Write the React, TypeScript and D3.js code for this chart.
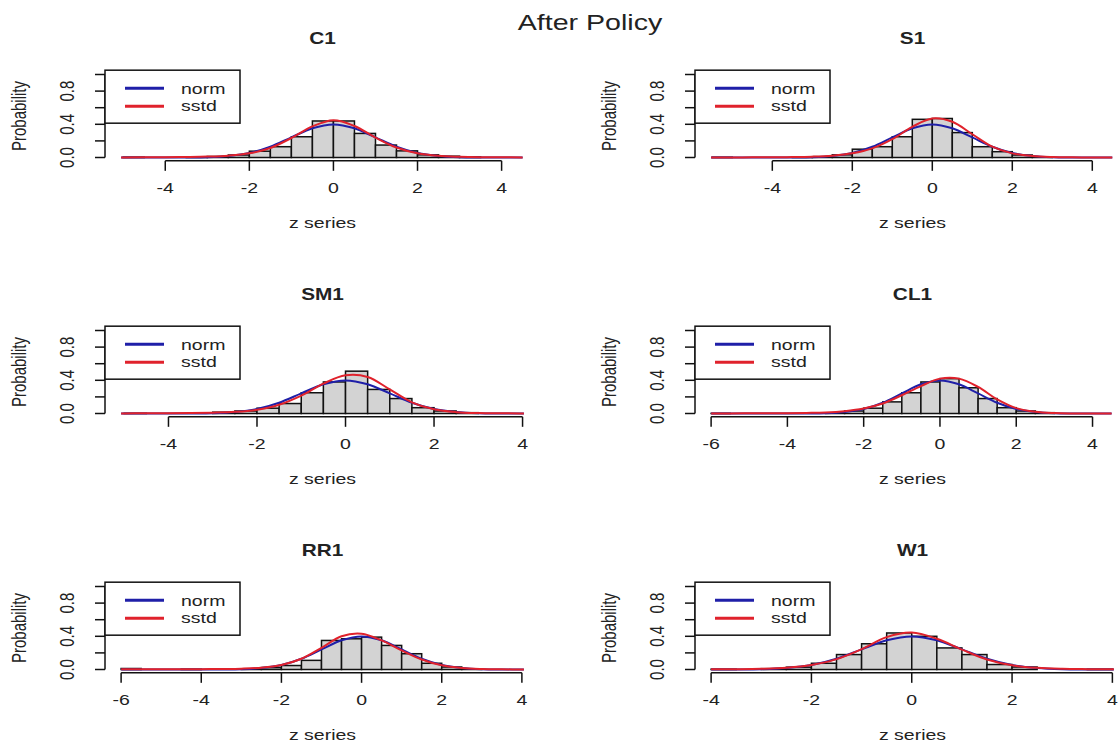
import React from "react";
import * as d3 from "d3";

// panel titles, in reading order (3 rows x 2 cols)
const panelNames = ["C1", "S1", "SM1", "CL1", "RR1", "W1"];

// data range of each z series (sets xlim)
const xRanges = [
  [-5.05, 4.53],
  [-5.53, 4.54],
  [-5.07, 4.03],
  [-6.0, 4.56],
  [-6.0, 4.05],
  [-4.0, 4.03],
];

const xTickValues = [
  [-4, -2, 0, 2, 4],
  [-4, -2, 0, 2, 4],
  [-4, -2, 0, 2, 4],
  [-6, -4, -2, 0, 2, 4],
  [-6, -4, -2, 0, 2, 4],
  [-4, -2, 0, 2, 4],
];
const yTickValues = [0, 0.2, 0.4, 0.6, 0.8, 1.0];
const yTickLabels = ["0.0", "", "0.4", "", "0.8", ""];

// histogram: first break, bin width 0.5, densities
const binStarts = [-5, -5.5, -5, -6, -6, -4];
const c1Dens = [0.004, 0, 0, 0.004, 0.012, 0.03, 0.076, 0.13, 0.25, 0.44, 0.44, 0.29, 0.15, 0.08, 0.032, 0.016, 0.008];
const s1Dens = [0.003, 0, 0, 0, 0.006, 0.01, 0.032, 0.1, 0.13, 0.25, 0.46, 0.47, 0.3, 0.13, 0.07, 0.03, 0.008];
const sm1Dens = [0.002, 0, 0, 0, 0.016, 0.03, 0.064, 0.12, 0.25, 0.38, 0.51, 0.29, 0.18, 0.07, 0.03, 0.01];
const cl1Dens = [0.002, 0, 0, 0, 0, 0, 0.006, 0.03, 0.064, 0.14, 0.25, 0.38, 0.42, 0.31, 0.18, 0.07, 0.03, 0.01];
const rr1Dens = [0.012, 0, 0, 0.004, 0, 0, 0.004, 0.024, 0.048, 0.11, 0.35, 0.37, 0.39, 0.29, 0.19, 0.075, 0.03, 0.008];
const w1Dens = [0.004, 0, 0.01, 0.028, 0.075, 0.18, 0.31, 0.44, 0.4, 0.26, 0.18, 0.06, 0.03, 0, 0, 0.004];
const binDensities = [c1Dens, s1Dens, sm1Dens, cl1Dens, rr1Dens, w1Dens];

// fitted densities read at z = -6 .. 4.5 (step 0.5)
const curveX = [-6, -5.5, -5, -4.5, -4, -3.5, -3, -2.5, -2, -1.5, -1, -0.5, 0, 0.5, 1, 1.5, 2, 2.5, 3, 3.5, 4, 4.5];
const normY = [0, 0, 0, 0, 0.0001, 0.001, 0.004, 0.018, 0.054, 0.13, 0.242, 0.352, 0.399, 0.352, 0.242, 0.13, 0.054, 0.018, 0.004, 0.001, 0.0001, 0];
const c1Sstd = [0, 0, 0.001, 0.002, 0.003, 0.006, 0.011, 0.022, 0.05, 0.115, 0.235, 0.375, 0.45, 0.38, 0.24, 0.12, 0.05, 0.02, 0.009, 0.004, 0.002, 0.001];
const s1Sstd = [0, 0.001, 0.001, 0.002, 0.003, 0.005, 0.01, 0.022, 0.05, 0.11, 0.22, 0.37, 0.47, 0.43, 0.28, 0.13, 0.05, 0.018, 0.006, 0.002, 0.001, 0];
const sm1Sstd = [0, 0, 0.001, 0.002, 0.003, 0.005, 0.01, 0.02, 0.045, 0.105, 0.215, 0.36, 0.46, 0.44, 0.29, 0.135, 0.05, 0.016, 0.005, 0.002, 0.001, 0];
const cl1Sstd = [0.001, 0.001, 0.002, 0.003, 0.004, 0.007, 0.012, 0.028, 0.06, 0.12, 0.22, 0.33, 0.42, 0.42, 0.32, 0.17, 0.065, 0.02, 0.005, 0.001, 0, 0];
const rr1Sstd = [0.002, 0.002, 0.003, 0.003, 0.004, 0.006, 0.01, 0.022, 0.055, 0.13, 0.26, 0.4, 0.43, 0.35, 0.23, 0.12, 0.05, 0.018, 0.006, 0.002, 0.001, 0];
const w1Sstd = [0, 0, 0.001, 0.001, 0.002, 0.004, 0.009, 0.022, 0.055, 0.125, 0.245, 0.39, 0.445, 0.37, 0.24, 0.12, 0.05, 0.02, 0.008, 0.004, 0.002, 0.001];
const sstdCurves = [c1Sstd, s1Sstd, sm1Sstd, cl1Sstd, rr1Sstd, w1Sstd];

const legendLabels = ["norm", "sstd"];

const W = 1120;
const H = 744;
const COL_X = [0, 590];
const ROW_Y = [0, 256, 512];
const PLOT_L = 105;
const PLOT_R = 540;
const Y_BASE = 157.5;
const Y_TOP = 74.5;
const SX = 1.3; // the source image is stretched sideways
const FONT = "'Liberation Sans', Arial, sans-serif";
const INK = "#222";
const BLUE = "#1f1fa8";
const RED = "#e0222c";

// horizontal text is widened; rotated text gets its glyph height widened instead
const Txt = ({ x, y, size, weight = "normal", anchor = "middle", rotated = false, children }: any) => (
  <text
    transform={
      rotated
        ? `translate(${x},${y}) rotate(-90) scale(1,${SX})`
        : `translate(${x},${y}) scale(${SX},1)`
    }
    fontSize={size}
    fontWeight={weight}
    textAnchor={anchor}
    fontFamily={FONT}
    fill={INK}
  >
    {children}
  </text>
);

const Panel = ({ i }: { i: number }) => {
  const ox = COL_X[i % 2];
  const oy = ROW_Y[Math.floor(i / 2)];
  const [lo, hi] = xRanges[i];
  const pad = (hi - lo) * 0.04;
  const x = d3.scaleLinear().domain([lo - pad, hi + pad]).range([PLOT_L, PLOT_R]);
  const y = d3.scaleLinear().domain([0, 1]).range([Y_BASE, Y_TOP]);
  const plotTop = y(1.04);
  const plotBot = y(-0.04);
  const ticks = xTickValues[i];

  const bins = binDensities[i].map((d, k) => ({ x0: binStarts[i] + k * 0.5, x1: binStarts[i] + (k + 1) * 0.5, d }));

  const line = d3
    .line<number>()
    .x((_, k) => x(curveX[k]))
    .y((v) => y(v))
    .curve(d3.curveCatmullRom.alpha(0.5));

  const clipId = `clip${i}`;
  const legX = PLOT_L;
  const legY = plotTop - 1;

  return (
    <g transform={`translate(${ox},${oy})`}>
      <defs>
        <clipPath id={clipId}>
          <rect x={x(lo)} y={plotTop - 5} width={x(hi) - x(lo)} height={plotBot - plotTop + 5} />
        </clipPath>
      </defs>

      <Txt x={(PLOT_L + PLOT_R) / 2} y={44} size={16} weight="bold">
        {panelNames[i]}
      </Txt>

      {/* bars */}
      {bins.map((b, k) => (
        <rect
          key={k}
          x={x(b.x0)}
          y={y(b.d)}
          width={x(b.x1) - x(b.x0)}
          height={y(0) - y(b.d)}
          fill="#d3d3d3"
          stroke="#111"
          strokeWidth={1.5}
        />
      ))}

      {/* fitted curves */}
      <g clipPath={`url(#${clipId})`} fill="none" strokeWidth={2}>
        <path d={line(normY) || ""} stroke={BLUE} />
        <path d={line(sstdCurves[i]) || ""} stroke={RED} />
      </g>

      {/* y axis */}
      <g stroke="#111" strokeWidth={1.5}>
        <line x1={PLOT_L} x2={PLOT_L} y1={y(0)} y2={y(1)} />
        {yTickValues.map((t) => (
          <line key={t} x1={PLOT_L - 10} x2={PLOT_L} y1={y(t)} y2={y(t)} />
        ))}
      </g>
      {yTickValues.map((t, k) =>
        yTickLabels[k] ? (
          <Txt key={t} x={PLOT_L - 31} y={y(t)} size={15} rotated>
            {yTickLabels[k]}
          </Txt>
        ) : null
      )}
      <Txt x={PLOT_L - 79} y={(plotTop + plotBot) / 2} size={15} rotated>
        Probability
      </Txt>

      {/* x axis */}
      <g stroke="#111" strokeWidth={1.5}>
        <line x1={x(ticks[0])} x2={x(ticks[ticks.length - 1])} y1={plotBot} y2={plotBot} />
        {ticks.map((t) => (
          <line key={t} x1={x(t)} x2={x(t)} y1={plotBot} y2={plotBot + 10} />
        ))}
      </g>
      {ticks.map((t) => (
        <Txt key={t} x={x(t)} y={193} size={15}>
          {t < 0 ? `-${Math.abs(t)}` : `${t}`}
        </Txt>
      ))}
      <Txt x={(PLOT_L + PLOT_R) / 2} y={228} size={15}>
        z series
      </Txt>

      {/* legend */}
      <rect x={legX} y={legY} width={135} height={53} fill="white" stroke="#111" strokeWidth={1.5} />
      {legendLabels.map((lab, k) => (
        <g key={lab}>
          <line
            x1={legX + 20}
            x2={legX + 59}
            y1={legY + 18 + k * 18}
            y2={legY + 18 + k * 18}
            stroke={k === 0 ? BLUE : RED}
            strokeWidth={3}
          />
          <Txt x={legX + 76} y={legY + 24 + k * 17} size={15} anchor="start">
            {lab}
          </Txt>
        </g>
      ))}
    </g>
  );
};

export default function App() {
  return (
    <svg
      width={W}
      height={H}
      viewBox={`0 0 ${W} ${H}`}
      style={{ position: "fixed", left: 0, top: 0, background: "white" }}
    >
      <rect width={W} height={H} fill="white" />
      <Txt x={590} y={30} size={22}>
        After Policy
      </Txt>
      {panelNames.map((_, i) => (
        <Panel key={i} i={i} />
      ))}
    </svg>
  );
}
